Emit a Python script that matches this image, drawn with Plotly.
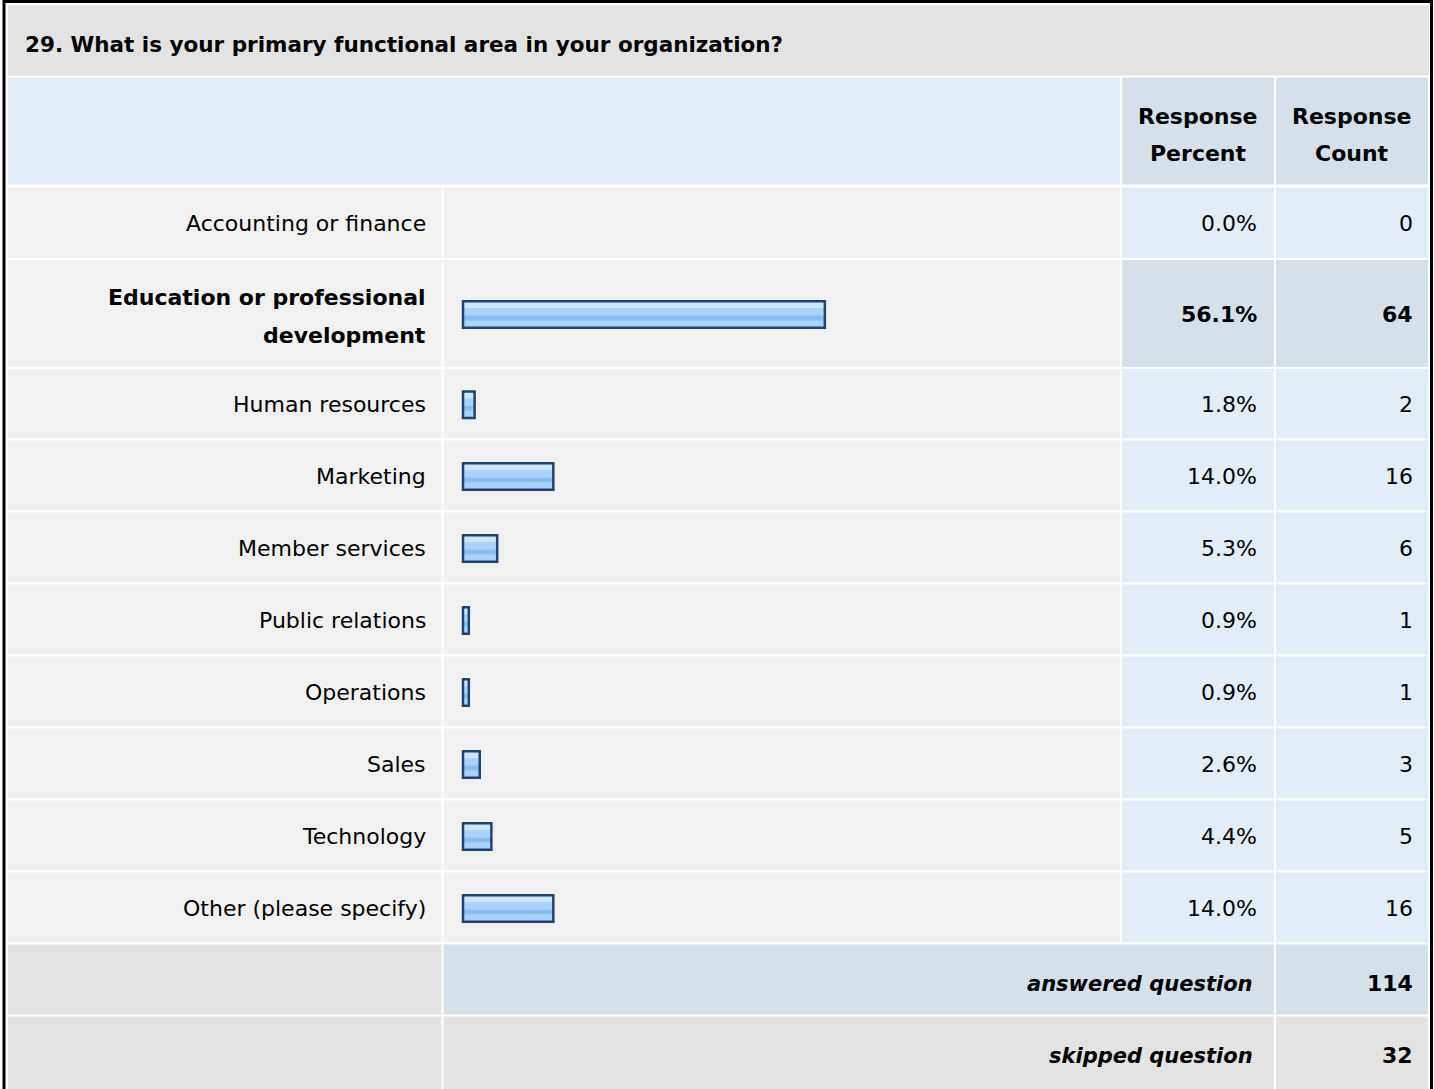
import textwrap
import plotly.graph_objects as go

# ---------------- data ----------------
title = "29. What is your primary functional area in your organization?"
categories = [
    "Accounting or finance",
    "Education or professional development",
    "Human resources",
    "Marketing",
    "Member services",
    "Public relations",
    "Operations",
    "Sales",
    "Technology",
    "Other (please specify)",
]
percents = [0.0, 56.1, 1.8, 14.0, 5.3, 0.9, 0.9, 2.6, 4.4, 14.0]
counts = [0, 64, 2, 16, 6, 1, 1, 3, 5, 16]
header_pct = ["Response", "Percent"]
header_cnt = ["Response", "Count"]
summary_labels = ["answered question", "skipped question"]
summary_values = [114, 32]

# ---------------- layout constants ----------------
W, H = 1434, 1089
FONT = "DejaVu Sans"
FS = 22
BLACK = "#000000"
GRAY = "#e3e3e3"
ROWBG = "#f1f1f1"
BLUE = "#e3edf7"
BLUE_D = "#d5e0ea"

col_label = (8, 441.5)
col_bar = (443.5, 1120)
col_pct = (1122, 1274)
col_cnt = (1276, 1428)
title_band = (5.5, 75.5)
header_band = (77.5, 184.5)
first_top = 187.5
gap = 2
row_heights = [70.5, 107, 69.5, 70, 70, 70, 70, 70, 70, 70]
summary_heights = [70, 100]

bar_zero_px = 463
px_per_pct = 6.45

hi = max(range(len(counts)), key=lambda i: counts[i])

# row geometry
tops = []
t = first_top
for h in row_heights:
    tops.append(t)
    t += h + gap
sum_tops = []
for h in summary_heights:
    sum_tops.append(t)
    t += h + gap
centers = [tp + h / 2 for tp, h in zip(tops, row_heights)]
sum_centers = [tp + h / 2 for tp, h in zip(sum_tops, summary_heights)]

shapes = []
annotations = []


def rect(x0, x1, y0, y1, color):
    shapes.append(dict(type="rect", xref="x", yref="y", x0=x0, x1=x1, y0=y0, y1=y1,
                       fillcolor=color, line=dict(width=0), layer="below"))


def text(x, y, s, anchor="right", size=FS):
    annotations.append(dict(x=x, y=y, xref="x", yref="y", text=s, showarrow=False,
                            xanchor=anchor, yanchor="middle",
                            font=dict(family=FONT, size=size, color=BLACK)))


# title band
rect(8, 1429, title_band[0], title_band[1], GRAY)
text(23, 44, "<b>" + title + "</b>", anchor="left", size=21.5)

# header
rect(col_label[0], col_bar[1], header_band[0], header_band[1], BLUE)
rect(col_pct[0], col_pct[1], header_band[0], header_band[1], BLUE_D)
rect(col_cnt[0], col_cnt[1], header_band[0], header_band[1], BLUE_D)
hc = (header_band[0] + header_band[1]) / 2
for k, (a, b) in enumerate(zip(header_pct, header_cnt)):
    yy = hc - 14.5 + 37 * k
    text((col_pct[0] + col_pct[1]) / 2, yy, "<b>" + a + "</b>", anchor="center")
    text((col_cnt[0] + col_cnt[1]) / 2, yy, "<b>" + b + "</b>", anchor="center")

# data rows
for i, cat in enumerate(categories):
    y0, y1 = tops[i], tops[i] + row_heights[i]
    rect(col_label[0], col_label[1], y0, y1, ROWBG)
    rect(col_bar[0], col_bar[1], y0, y1, ROWBG)
    cc = BLUE_D if i == hi else BLUE
    rect(col_pct[0], col_pct[1], y0, y1, cc)
    rect(col_cnt[0], col_cnt[1], y0, y1, cc)
    wrap = (lambda s: "<b>" + s + "</b>") if i == hi else (lambda s: s)
    lines = textwrap.wrap(cat, 26)
    n = len(lines)
    for k, ln in enumerate(lines):
        yy = centers[i] + 1 + (k - (n - 1) / 2) * 38 + (2 if n > 1 else 0)
        text(428, yy, wrap(ln))
    text(1259, centers[i] + 1, wrap(f"{percents[i]:.1f}%"))
    text(1415, centers[i] + 1, wrap(str(counts[i])))

# summary rows
for j, (lab, val) in enumerate(zip(summary_labels, summary_values)):
    y0, y1 = sum_tops[j], sum_tops[j] + summary_heights[j]
    cc = BLUE_D if j == 0 else GRAY
    rect(col_label[0], col_label[1], y0, y1, GRAY)
    rect(col_bar[0], col_pct[1], y0, y1, cc)
    rect(col_cnt[0], col_cnt[1], y0, y1, cc)
    yc = sum_centers[0] + 4 if j == 0 else sum_tops[j] + 39
    text(1255, yc, "<b><i>" + lab + "</i></b>", size=21)
    text(1415, yc, "<b>" + str(val) + "</b>")

# outer border
shapes.append(dict(type="rect", xref="x", yref="y", x0=4, x1=1431.5, y0=1.5, y1=H + 20,
                   line=dict(color=BLACK, width=3), fillcolor="rgba(0,0,0,0)", layer="above"))

# ---------------- bars ----------------
fig = go.Figure()
xs = [p if p > 0 else None for p in percents]
bar_y = [c + 1 for c in centers]
layers = [
    dict(color="#a9d3fd", dy=0, w=26.5),
    dict(color="#cde7ff", dy=-9.5, w=6),
    dict(color="#8bbff1", dy=3.5, w=5),
]
for L in layers:
    fig.add_trace(go.Bar(
        x=xs, y=[b + L["dy"] for b in bar_y], orientation="h", width=L["w"],
        marker=dict(color=L["color"], line=dict(width=0)),
        xaxis="x2", yaxis="y", hoverinfo="skip", showlegend=False))
fig.add_trace(go.Bar(
    x=xs, y=bar_y, orientation="h", width=26.5,
    marker=dict(color="rgba(0,0,0,0)", line=dict(color="#1f4470", width=2.5)),
    xaxis="x2", yaxis="y", hoverinfo="skip", showlegend=False))

fig.update_layout(
    width=W, height=H,
    margin=dict(l=0, r=0, t=0, b=0),
    paper_bgcolor="white", plot_bgcolor="rgba(0,0,0,0)",
    barmode="overlay",
    xaxis=dict(range=[0, W], domain=[0, 1], visible=False, fixedrange=True),
    xaxis2=dict(domain=[col_bar[0] / W, col_bar[1] / W],
                range=[-(bar_zero_px - col_bar[0]) / px_per_pct,
                       (col_bar[1] - bar_zero_px) / px_per_pct],
                anchor="y", visible=False, fixedrange=True),
    yaxis=dict(range=[H, 0], domain=[0, 1], visible=False, fixedrange=True),
    shapes=shapes,
    annotations=annotations,
)

fig.write_html(
    "out.html",
    config={"displayModeBar": False},
    post_script="document.body.style.margin='0';document.body.style.overflow='hidden';",
)
